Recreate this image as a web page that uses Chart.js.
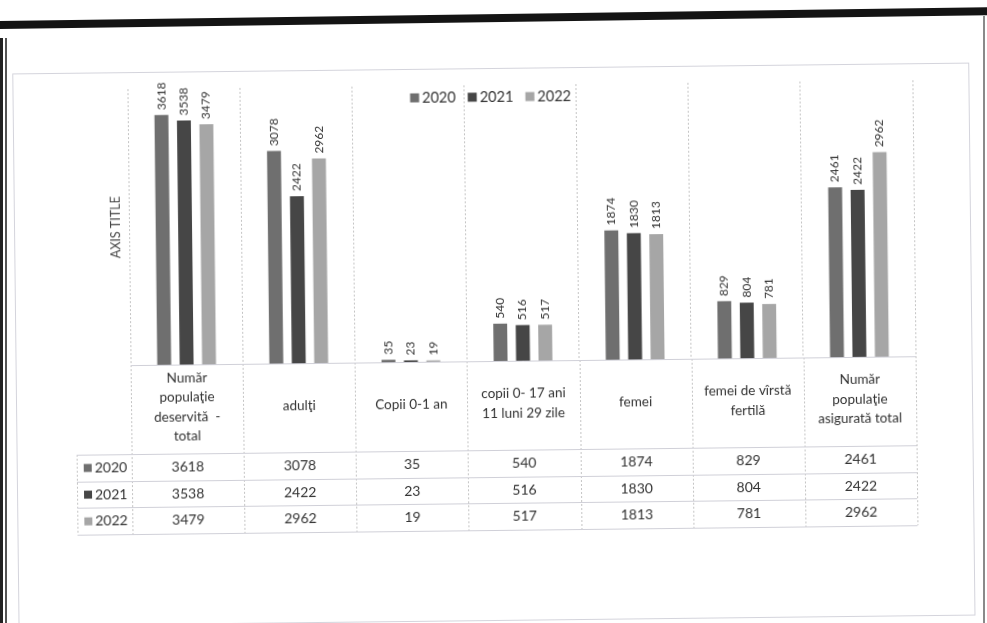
<!DOCTYPE html>
<html>
<head>
<meta charset="utf-8">
<title>Populaţie deservită 2020-2022</title>
<script src="https://cdn.jsdelivr.net/npm/chart.js@4.4.1/dist/chart.umd.min.js"></script>
<style>
  html, body { margin: 0; padding: 0; background: #fff; overflow: hidden; }
  #wrap { position: relative; width: 987px; height: 623px; overflow: hidden; }
  #chart { position: absolute; left: 0; top: 0; transform: rotate(-0.65deg); }
  /* scan edges of the photographed page */
  .scan-top { position: absolute; left: -10px; top: 14px; width: 1010px; height: 8px; background: #141414; transform: rotate(-0.8deg); }
  .scan-left { position: absolute; left: 0; top: 38px; width: 3px; height: 600px; background: #222; }
  .scan-left2 { position: absolute; left: 5px; top: 38px; width: 2px; height: 600px; background: #555; }
  .scan-right { position: absolute; left: 983px; top: 16px; width: 2px; height: 610px; background: #8a8a8a; }
</style>
</head>
<body>
<div id="wrap">
  <canvas id="chart" width="987" height="623"></canvas>
  <div class="scan-top"></div>
  <div class="scan-left"></div>
  <div class="scan-left2"></div>
  <div class="scan-right"></div>
</div>
<script>
// --- data ---
const categories = [
    ['Număr', 'populaţie', 'deservită  -', 'total'],
    ['adulţi'],
    ['Copii 0-1 an'],
    ['copii 0- 17 ani', '11 luni 29 zile'],
    ['femei'],
    ['femei de vîrstă', 'fertilă'],
    ['Număr', 'populaţie', 'asigurată total']
];
const years = ['2020', '2021', '2022'];
const values2020 = [3618, 3078, 35, 540, 1874, 829, 2461];
const values2021 = [3538, 2422, 23, 516, 1830, 804, 2422];
const values2022 = [3479, 2962, 19, 517, 1813, 781, 2962];
const yearColors = ['#6f6f6f', '#464646', '#a6a6a6'];
const yMax = 4000;

const FONT = 'Lato, "Open Sans", sans-serif';
const TEXT = '#333333';

// frame, axis title, legend
const decorPlugin = {
    id: 'decor',
    beforeDraw(chart) {
        const ctx = chart.ctx;
        ctx.save();
        ctx.strokeStyle = '#d4d4dc';
        ctx.lineWidth = 1;
        ctx.strokeRect(15.5, 68.5, 956, 552);
        ctx.restore();
    },
    afterDraw(chart) {
        const ctx = chart.ctx;
        const area = chart.chartArea;
        ctx.save();
        // axis title
        ctx.translate(117, area.top + 138);
        ctx.rotate(-Math.PI / 2);
        ctx.font = '12.5px ' + FONT;
        ctx.fillStyle = '#444';
        ctx.textAlign = 'center';
        ctx.textBaseline = 'middle';
        ctx.fillText('AXIS TITLE', 0, 0);
        ctx.restore();

        // legend
        ctx.save();
        ctx.font = '14.5px ' + FONT;
        ctx.textBaseline = 'middle';
        const box = 9, gap = 3, itemGap = 12;
        const ds = chart.data.datasets;
        const widths = ds.map(d => box + gap + ctx.measureText(d.label).width);
        const total = widths.reduce((a, b) => a + b, 0) + itemGap * (ds.length - 1);
        let lx = 493 - total / 2;
        const ly = area.top + 12;
        ds.forEach((d, i) => {
            ctx.fillStyle = d.backgroundColor;
            ctx.fillRect(lx, ly - box / 2, box, box);
            ctx.fillStyle = TEXT;
            ctx.fillText(d.label, lx + box + gap, ly);
            lx += widths[i] + itemGap;
        });
        ctx.restore();
    }
};

// rotated value labels above bars
const labelPlugin = {
    id: 'barLabels',
    afterDatasetsDraw(chart) {
        const ctx = chart.ctx;
        ctx.save();
        ctx.font = '12px ' + FONT;
        ctx.fillStyle = TEXT;
        ctx.textAlign = 'left';
        ctx.textBaseline = 'middle';
        chart.data.datasets.forEach((d, di) => {
            chart.getDatasetMeta(di).data.forEach((bar, i) => {
                ctx.save();
                ctx.translate(bar.x, bar.y - 5);
                ctx.rotate(-Math.PI / 2);
                ctx.fillText(String(d.data[i]), 0, 0);
                ctx.restore();
            });
        });
        ctx.restore();
    }
};

// excel-style data table under the plot
const tablePlugin = {
    id: 'dataTable',
    afterDraw(chart) {
        const ctx = chart.ctx;
        const xs = chart.scales.x;
        const area = chart.chartArea;
        const n = categories.length;
        const half = (xs.getPixelForTick(1) - xs.getPixelForTick(0)) / 2;
        const top = area.bottom;
        const headH = 89;
        const rowH = 26.7;
        const keyLeft = area.left - 55;
        const bottom = top + headH + rowH * years.length;

        ctx.save();
        // vertical separators through the table
        ctx.strokeStyle = '#c4c4c4';
        ctx.lineWidth = 1;
        ctx.setLineDash([2, 2]);
        for (let i = 0; i <= n; i++) {
            const px = Math.round(xs.getPixelForTick(Math.min(i, n - 1)) + (i < n ? -half : half)) + 0.5;
            ctx.beginPath();
            ctx.moveTo(px, top);
            ctx.lineTo(px, bottom);
            ctx.stroke();
        }
        ctx.beginPath();
        ctx.moveTo(Math.round(keyLeft) + 0.5, top + headH);
        ctx.lineTo(Math.round(keyLeft) + 0.5, bottom);
        ctx.stroke();
        ctx.setLineDash([]);

        // horizontal rules
        ctx.strokeStyle = '#d0d0d8';
        ctx.beginPath();
        ctx.moveTo(area.left, Math.round(top) + 0.5);
        ctx.lineTo(area.right, Math.round(top) + 0.5);
        for (let r = 0; r <= years.length; r++) {
            const py = Math.round(top + headH + rowH * r) + 0.5;
            ctx.moveTo(keyLeft, py);
            ctx.lineTo(area.right, py);
        }
        ctx.stroke();

        // header (category names)
        ctx.fillStyle = TEXT;
        ctx.font = '13.5px ' + FONT;
        ctx.textAlign = 'center';
        ctx.textBaseline = 'middle';
        const lineH = 19.5;
        categories.forEach((lines, i) => {
            const cx = xs.getPixelForTick(i);
            const cy = top + headH / 2 - 2;
            const y0 = cy - (lines.length - 1) * lineH / 2;
            lines.forEach((t, k) => ctx.fillText(t, cx, y0 + k * lineH));
        });

        // rows
        ctx.font = '14px ' + FONT;
        const series = [values2020, values2021, values2022];
        series.forEach((vals, r) => {
            const cy = top + headH + rowH * r + rowH / 2;
            ctx.fillStyle = yearColors[r];
            ctx.fillRect(keyLeft + 7, cy - 4, 8, 8);
            ctx.fillStyle = TEXT;
            ctx.textAlign = 'left';
            ctx.fillText(years[r], keyLeft + 18, cy);
            ctx.textAlign = 'center';
            vals.forEach((v, i) => ctx.fillText(String(v), xs.getPixelForTick(i), cy));
        });
        ctx.restore();
    }
};

new Chart(document.getElementById('chart'), {
    type: 'bar',
    data: {
        labels: categories.map(c => c.join(' ')),
        datasets: [
            { label: years[0], data: values2020, backgroundColor: yearColors[0] },
            { label: years[1], data: values2021, backgroundColor: yearColors[1] },
            { label: years[2], data: values2022, backgroundColor: yearColors[2] }
        ]
    },
    options: {
        responsive: false,
        animation: false,
        devicePixelRatio: 1,
        layout: { padding: { left: 130, right: 72, top: 85, bottom: 262 } },
        datasets: { bar: { categoryPercentage: 0.6, barPercentage: 0.62 } },
        scales: {
            x: {
                offset: true,
                ticks: { display: false },
                grid: { display: true, offset: true, drawTicks: false, color: '#c4c4c4', tickBorderDash: [2, 2] },
                border: { display: false, dash: [2, 2] }
            },
            y: {
                display: false,
                min: 0,
                max: yMax
            }
        },
        plugins: {
            legend: { display: false },
            tooltip: { enabled: false }
        }
    },
    plugins: [decorPlugin, labelPlugin, tablePlugin]
});
</script>
</body>
</html>
